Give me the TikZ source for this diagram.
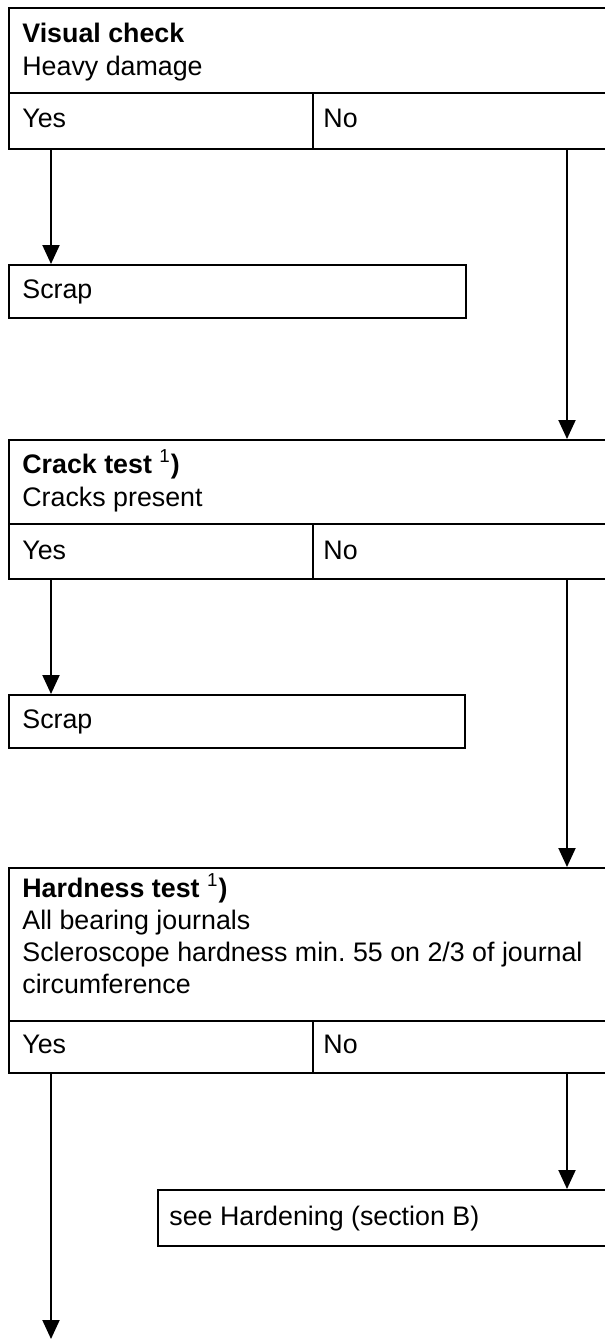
\documentclass[tikz,border=0pt]{standalone}
\usepackage{fontspec}
\setmainfont{Liberation Sans}
\usetikzlibrary{arrows.meta,calc}
\frenchspacing
\begin{document}
\begin{tikzpicture}[x=0.5pt,y=-0.5pt,
  cell/.style={draw,line width=1pt,rectangle,anchor=north west,inner sep=0pt},
  lbl/.style={anchor=base west,inner sep=0pt,font=\fontsize{13.4}{15}\selectfont},
  arr/.style={line width=1pt,-{Triangle[width=8.5pt,length=9.5pt]}}]
\clip (0,0) rectangle (605,1340);
\fill[white] (0,0) rectangle (605,1340);
% ---- Question 1
\node[cell,minimum width=311pt,minimum height=42.5pt] (q1) at (8,7) {};
\node[cell,minimum width=152pt,minimum height=28pt] (yes1) at (8,92) {};
\node[cell,minimum width=159pt,minimum height=28pt] (no1) at (312,92) {};
\node[lbl] (q1t) at (22,42) {\bfseries Visual check};
\node[lbl] (q1s) at (22,75) {Heavy damage};
\node[lbl] (yes1t) at (22,127) {Yes};
\node[lbl] (no1t) at (323,127) {No};
% scrap 1
\node[cell,minimum width=228.5pt,minimum height=26.5pt] (s1) at (8,264) {};
\node[lbl] (s1t) at (22,298) {Scrap};
% ---- Question 2
\node[cell,minimum width=311pt,minimum height=42pt] (q2) at (8,439) {};
\node[cell,minimum width=152pt,minimum height=27.5pt] (yes2) at (8,523) {};
\node[cell,minimum width=159pt,minimum height=27.5pt] (no2) at (312,523) {};
\node[lbl] (q2t) at (22,473) {\textbf{Crack test} \textsuperscript{1}\textbf{)}};
\node[lbl] (q2s) at (22,506) {Cracks present};
\node[lbl] (yes2t) at (22,559) {Yes};
\node[lbl] (no2t) at (323,559) {No};
% scrap 2
\node[cell,minimum width=228pt,minimum height=26.5pt] (s2) at (8,694) {};
\node[lbl] (s2t) at (22,728) {Scrap};
% ---- Question 3
\node[cell,minimum width=311pt,minimum height=76.5pt] (q3) at (8,867) {};
\node[cell,minimum width=152pt,minimum height=26pt] (yes3) at (8,1020) {};
\node[cell,minimum width=159pt,minimum height=26pt] (no3) at (312,1020) {};
\node[lbl] (q3t) at (22,897) {\textbf{Hardness test} \textsuperscript{1}\textbf{)}};
\node[lbl] (q3a) at (22,929) {All bearing journals};
\node[lbl] (q3b) at (22,961) {Scleroscope hardness min. 55 on 2/3 of journal};
\node[lbl] (q3c) at (22,993) {circumference};
\node[lbl] (yes3t) at (22,1053) {Yes};
\node[lbl] (no3t) at (323,1053) {No};
% hardening
\node[cell,minimum width=236.5pt,minimum height=28pt] (h) at (157,1189) {};
\node[lbl] (ht) at (169,1225) {see Hardening (section B)};
\coordinate (end3) at (51,1339);
% ---- connectors
\coordinate (y1) at ($(yes1.south west)+(43,0)$);
\coordinate (n1) at ($(no1.south west)+(255,0)$);
\coordinate (y2) at ($(yes2.south west)+(43,0)$);
\coordinate (n2) at ($(no2.south west)+(255,0)$);
\coordinate (y3) at ($(yes3.south west)+(43,0)$);
\coordinate (n3) at ($(no3.south west)+(255,0)$);
\draw[arr] (y1) -- (y1 |- s1.north);
\draw[arr] (n1) -- (n1 |- q2.north);
\draw[arr] (y2) -- (y2 |- s2.north);
\draw[arr] (n2) -- (n2 |- q3.north);
\draw[arr] (n3) -- (n3 |- h.north);
\draw[arr] (y3) -- (end3);
\end{tikzpicture}
\end{document}
